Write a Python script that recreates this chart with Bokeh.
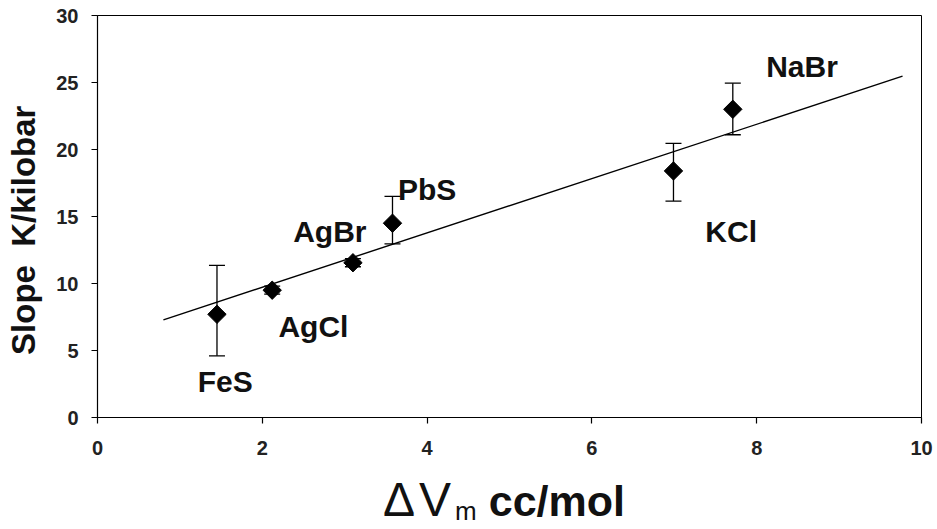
import math
from bokeh.plotting import figure
from bokeh.models import ColumnDataSource, Whisker, TeeHead, Label, Range1d, FixedTicker, Div
from bokeh.layouts import column
from bokeh.embed import file_html
from bokeh.resources import INLINE

# ---- data ----
compounds = ["FeS", "AgCl", "AgBr", "PbS", "KCl", "NaBr"]
dvm = [1.45, 2.12, 3.10, 3.58, 6.99, 7.71]
slope = [7.7, 9.5, 11.55, 14.5, 18.4, 23.0]
err_upper = [11.35, 9.8, 11.85, 16.5, 20.45, 24.95]
err_lower = [4.6, 9.2, 11.25, 12.95, 16.15, 21.1]
trend_x = [0.80, 9.77]
trend_y = [7.29, 25.47]
x_ticks = [0, 2, 4, 6, 8, 10]
y_ticks = [0, 5, 10, 15, 20, 25, 30]
# label anchor positions (data units)
label_x = [1.55, 2.62, 2.82, 4.00, 7.69, 8.55]
label_y = [2.7, 6.77, 13.9, 17.05, 13.85, 26.2]
y_title = "Slope\u00a0\u00a0K/kilobar"

FONT = "Liberation Sans"

p = figure(width=937, height=466, output_backend="svg", toolbar_location=None,
           x_range=Range1d(0, 10), y_range=Range1d(0, 30),
           min_border_left=97, min_border_right=16, min_border_top=15, min_border_bottom=49)
p.grid.visible = False
p.background_fill_color = "white"
p.border_fill_color = "white"
p.outline_line_color = "black"
p.outline_line_width = 1

for ax, ticks in ((p.xaxis[0], x_ticks), (p.yaxis[0], y_ticks)):
    ax.ticker = FixedTicker(ticks=ticks)
    ax.minor_tick_line_color = None
    ax.major_tick_in = 0
    ax.major_tick_out = 6
    ax.axis_line_color = "black"
    ax.axis_line_width = 1.2
    ax.major_tick_line_color = "black"
    ax.major_tick_line_width = 1.2
    ax.major_label_text_font = FONT
    ax.major_label_text_font_style = "bold"
    ax.major_label_text_font_size = "20px"
    ax.major_label_text_color = "#222222"
p.yaxis[0].major_label_standoff = 13
p.xaxis[0].major_label_standoff = 17

yax = p.yaxis[0]
# trailing no-break spaces nudge the rotated title slightly downward, as in the original
yax.axis_label = y_title + "\u00a0\u00a0\u00a0"
yax.axis_label_text_font = FONT
yax.axis_label_text_font_style = "bold"
yax.axis_label_text_font_size = "33px"
yax.axis_label_text_color = "#111111"
yax.axis_label_standoff = 11

src = ColumnDataSource(dict(x=dvm, y=slope, upper=err_upper, lower=err_lower))

p.line(trend_x, trend_y, line_color="black", line_width=1.4)

p.add_layout(Whisker(source=src, base="x", upper="upper", lower="lower",
                     line_color="black", line_width=1.3,
                     upper_head=TeeHead(size=16, line_color="black", line_width=1.3),
                     lower_head=TeeHead(size=16, line_color="black", line_width=1.3)))

p.scatter("x", "y", source=src, marker="square", angle=math.pi / 4, size=13,
          fill_color="black", line_color="black")

for name, lx, ly in zip(compounds, label_x, label_y):
    p.add_layout(Label(x=lx, y=ly, text=name, text_font=FONT, text_font_style="bold",
                       text_font_size="30px", text_align="center",
                       text_baseline="alphabetic", text_color="#111111"))

# x-axis title with mixed styling (ΔV regular, subscript m, bold cc/mol)
x_title_html = (
    "<div style=\"padding-left:383px; padding-top:12px; font-family:'Liberation Sans';"
    " font-size:43px; line-height:43px; color:#111111; white-space:nowrap;\">"
    "<span style=\"font-size:48px; letter-spacing:4px;\">&Delta;V</span>"
    "<span style=\"font-size:26px; line-height:0.8; position:relative; top:4px;\">m</span>"
    "<b style=\"margin-left:12px;\">cc/mol</b></div>"
)
title_div = Div(text=x_title_html, width=937, height=63, margin=(0, 0, 0, 0))

layout = column(p, title_div, spacing=0)

open("out.html", "w").write(file_html(layout, INLINE))
